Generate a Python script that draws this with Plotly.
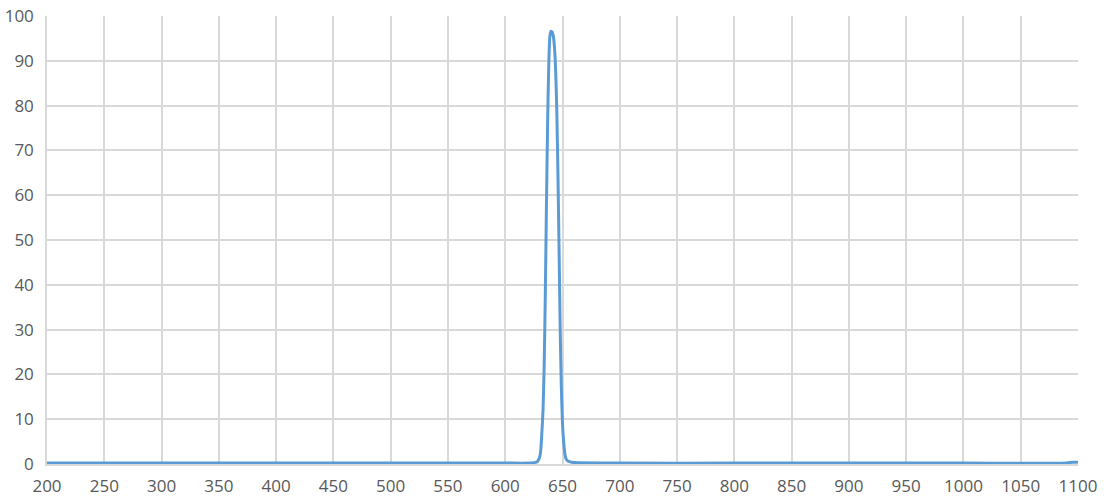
import plotly.graph_objects as go

# wavelength (nm) and transmission (%)
wavelength = [200, 300, 400, 500, 600, 620, 625, 628, 630, 631, 632, 633, 634, 635,
              636, 637, 638, 639, 640, 641, 642, 643, 644, 645, 646, 647, 648,
              649, 650, 651, 652, 653, 655, 658, 665, 700, 800, 900, 1000, 1090, 1095, 1100]
transmission = [0.2, 0.2, 0.2, 0.2, 0.2, 0.2, 0.3, 0.5, 1.5, 3, 7, 12, 22, 38,
                58, 76, 89, 95.5, 96.6, 96.4, 95.5, 93, 88, 79, 65, 48, 30,
                17, 9, 5, 2.5, 1.2, 0.6, 0.4, 0.3, 0.2, 0.2, 0.2, 0.2, 0.2, 0.4, 0.4]

x_ticks = list(range(200, 1101, 50))
y_ticks = list(range(0, 101, 10))

GRID = '#d9d9d9'
TEXT = '#595959'

fig = go.Figure(go.Scatter(x=wavelength, y=transmission, mode='lines',
                           line=dict(color='#5b9bd5', width=3, shape='spline', smoothing=0.6),
                           hoverinfo='x+y', cliponaxis=False))

fig.update_layout(width=1104, height=503,
                  paper_bgcolor='white', plot_bgcolor='white',
                  margin=dict(l=47, r=26, t=16, b=39, autoexpand=False),
                  showlegend=False,
                  font=dict(family='Open Sans', size=17, color=TEXT),
                  xaxis=dict(range=[200, 1100], tickvals=x_ticks, showgrid=True, gridcolor=GRID,
                             gridwidth=1.5, zeroline=False, showline=True, linecolor=GRID,
                             linewidth=1.5, ticks='', automargin=False, ticklabelstandoff=6),
                  yaxis=dict(range=[0, 100], tickvals=y_ticks, showgrid=True, gridcolor=GRID,
                             gridwidth=1.5, zeroline=False, showline=True, linecolor=GRID,
                             linewidth=1.5, ticks='', automargin=False, ticklabelstandoff=8))

# drop the default 8px body margin so the figure sits flush in the window
fig.write_html("out.html", config={'displayModeBar': False},
               post_script="document.body.style.margin='0';")
